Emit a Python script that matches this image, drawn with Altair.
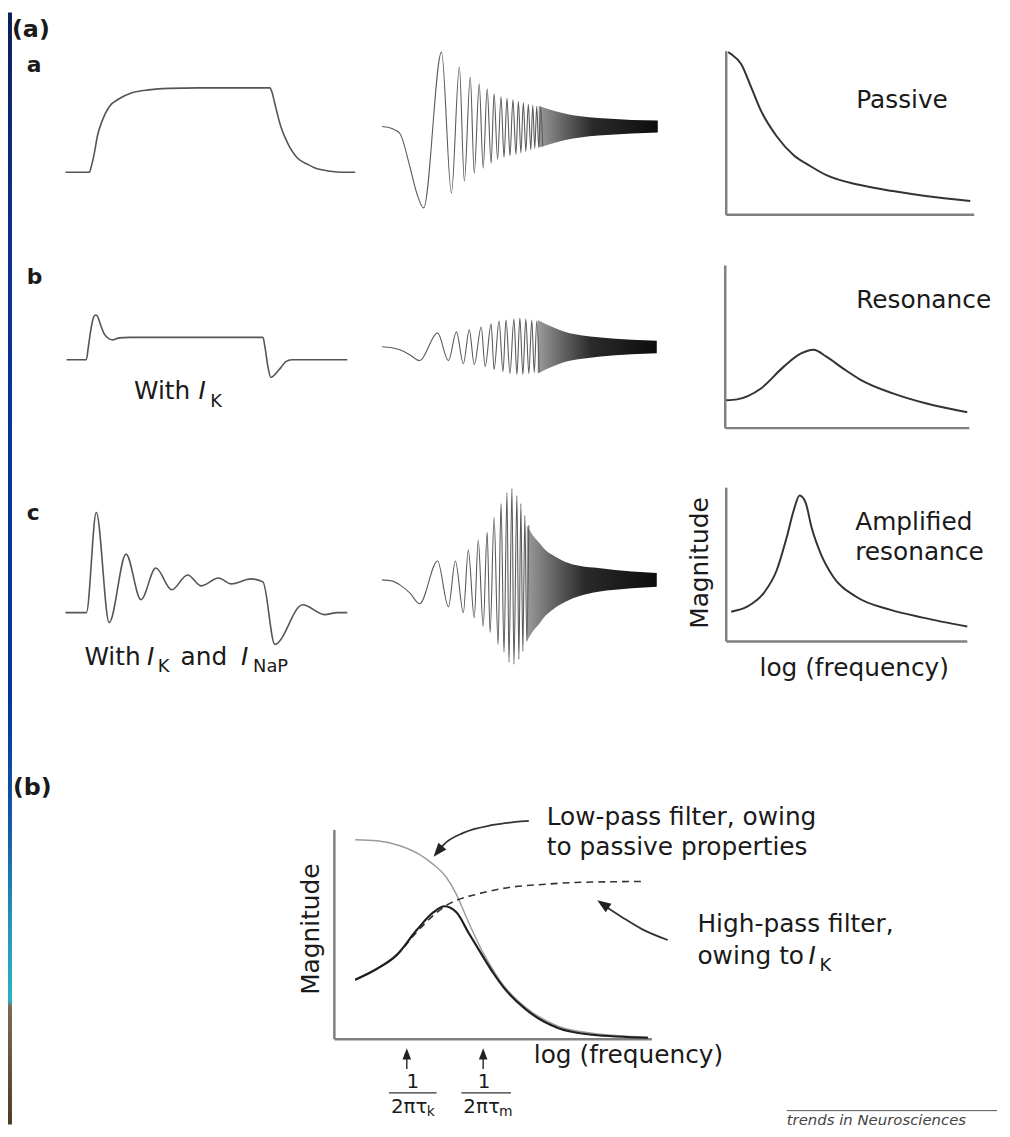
import altair as alt
import pandas as pd

FONT = "DejaVu Sans"
INK = "#1a1a1a"
OFF = 8
W, H = 1002, 1121

# ---------------- data (arbitrary units) ----------------
# step responses: time vs membrane voltage
SA_T = [0, 24, 26, 29, 32, 37, 44, 54, 67, 84, 104, 134, 206, 208, 211, 217, 224, 234, 244, 251, 267, 279, 292]
SA_V = [0, 0, 6, 19, 36, 52, 66, 74, 80, 83, 84.5, 85, 85, 81, 69, 46, 29, 14, 8, 4.5, 1, 0, 0]
SB_T = [1, 21, 23, 26, 28, 30, 32, 35, 39, 44, 48, 54, 64, 199, 201, 204, 207, 211, 217, 222, 228, 284]
SB_V = [0, 0, 13, 33, 42, 45, 44, 36, 26, 21, 20, 22, 22.5, 22.5, 13, -7, -18, -15, -8, -2, 0, 0]
SC_T = [0, 21, 31, 44, 61, 76, 91, 107, 123, 137, 154, 167, 187, 199, 211, 239, 261, 274, 284]
SC_V = [0, 0, 101, -10, 59, 13, 45, 23, 38, 27, 35, 29, 34, 31, -32, 8, -2, 0, 0]

# chirp (ZAP) responses: extrema of the readable part + envelope of the dense part
CA_T = [0, 10, 18, 28, 35, 42, 60, 70, 78, 83, 89, 93, 98, 102, 106, 110, 113, 116.5, 120, 123, 126, 129,
        132, 135, 137.5, 140, 142.5, 145, 147.5, 150, 152, 154, 156, 158, 160, 162]
CA_V = [0, -2, -7, -40, -67, -82, 75, -67, 60, -55, 50, -47, 43, -42, 38, -37, 33, -33, 30, -31, 28.5, -29.5,
        27, -28, 25.5, -26.5, 24, -25, 22.5, -23.5, 21.5, -22, 20.5, -21, 19.5, -20]
CA_BT = [158, 165, 175, 185, 200, 218, 235, 252, 278]
CA_BU = [21, 18.5, 15.5, 13, 10.5, 8.5, 7.5, 6.5, 6]
CA_BL = [-21, -19, -16, -13.5, -11, -9, -8, -7, -6]

CB_T = [0, 10, 18, 28, 38, 56, 67, 75, 82, 88, 93, 100, 104, 110, 113, 118, 122, 125, 129, 133, 136, 139,
        142, 145, 148, 151, 153.5, 156, 158.5]
CB_V = [0, -1, -3, -8, -14, 14, -14, 15, -17, 17, -18, 20, -20, 23, -23, 26, -25, 27, -27, 28, -28, 29,
        -28, 28, -27, 27, -26, 26, -26]
CB_BT = [157, 165, 172, 185, 202, 218, 235, 252, 277]
CB_BU = [27, 23, 20, 15, 11.5, 9.5, 8, 7, 6]
CB_BL = [-27, -23, -20, -15, -12, -10, -8.5, -7.5, -6.5]

CC_T = [0, 10, 18, 28, 38, 56, 67, 74, 82, 87, 93, 97, 102, 106, 109, 113, 117, 120, 123, 126, 128, 131,
        133, 136, 138, 140, 142, 144, 146, 148]
CC_V = [0, -1, -5, -13, -24, 19, -27, 19, -33, 30, -38, 40, -47, 48, -53, 63, -65, 77, -73, 88, -83, 92,
        -85, 85, -80, 77, -72, 65, -62, 55]
CC_BT = [146, 152, 158, 165, 172, 185, 200, 218, 235, 252, 277]
CC_BU = [55, 45, 38, 30, 25, 18, 14, 12, 10, 8.5, 7]
CC_BL = [-62, -52, -45, -36, -30, -22, -16, -12, -10, -8.5, -7]

# impedance magnitude vs log(frequency)
FA_F = [2, 5, 15, 25, 35, 51, 68, 85, 101, 135, 168, 201, 246]
FA_M = [164, 162, 152, 129, 105, 79, 60, 49, 40, 30, 24, 19, 14]
FB_F = [1, 12, 36, 59, 76, 89, 102, 119, 136, 169, 202, 244]
FB_M = [28, 29, 40, 62, 75, 79, 72, 60, 49, 35, 25, 16]
FC_F = [5, 21, 38, 51, 61, 68, 74, 80, 86, 95, 108, 131, 165, 198, 243]
FC_M = [30, 35, 49, 72, 105, 132, 147, 140, 115, 89, 65, 45, 32, 24, 15]

# panel (b): low-pass, resonance and high-pass curves
LP_F = [21, 43, 66, 86, 100, 113, 123, 133, 143, 150, 160, 170, 193, 226, 260, 316]
LP_M = [201, 200, 195, 186, 176, 163, 146, 123, 101, 87, 70, 55, 32, 13, 6, 2]
RS_F = [21, 43, 63, 83, 100, 111, 123, 136, 150, 160, 170, 193, 226, 260, 316]
RS_M = [60, 71, 85, 110, 128, 134, 128, 106, 83, 67, 53, 30, 11, 4.5, 1.5]
HP_F = [21, 43, 63, 83, 100, 113, 123, 143, 176, 210, 243, 310]
HP_M = [60, 71, 85, 108, 125, 135, 140, 146, 153, 156, 158, 159]

# ---------------- layout: panel anchors on the page ----------------
PAN = {
    "SA": (66, 169), "SB": (66, 358), "SC": (66, 613),
    "CA": (385, 123), "CB": (385, 345), "CC": (385, 580),
    "FA": (732, 212), "FB": (731, 427), "FC": (732, 642),
    "PB": (337, 1043),
}


def sx(p):
    x0 = PAN[p][0] - OFF
    return alt.Scale(domain=[0, 100], range=[x0, x0 + 100], nice=False, zero=False)


def sy(p):
    y0 = PAN[p][1] - OFF
    return alt.Scale(domain=[0, 100], range=[y0, y0 - 100], nice=False, zero=False)


def enc(p):
    return dict(x=alt.X("t:Q", scale=sx(p), axis=None),
                y=alt.Y("v:Q", scale=sy(p), axis=None))


def line(p, t, v, color, width, dash=None, interp="monotone"):
    kw = dict(color=color, strokeWidth=width, interpolate=interp)
    if dash:
        kw["strokeDash"] = dash
    return alt.Chart(pd.DataFrame({"t": t, "v": v})).mark_line(**kw).encode(**enc(p))


GRAD = alt.LinearGradient(
    gradient="linear", x1=0, x2=1, y1=0, y2=0,
    stops=[alt.GradientStop(color="#9a9a9a", offset=0),
           alt.GradientStop(color="#666666", offset=0.2),
           alt.GradientStop(color="#2a2a2a", offset=0.45),
           alt.GradientStop(color="#0d0d0d", offset=1)])


def band(p, t, up, lo):
    df = pd.DataFrame({"t": t, "v": up, "l": lo})
    return alt.Chart(df).mark_area(fill=GRAD, interpolate="monotone").encode(
        x=alt.X("t:Q", scale=sx(p), axis=None),
        y=alt.Y("v:Q", scale=sy(p), axis=None),
        y2="l:Q")


def rule(p, t, v, t2, v2, color="#808080", width=2.5):
    df = pd.DataFrame({"t": [t], "v": [v], "t2": [t2], "v2": [v2]})
    return alt.Chart(df).mark_rule(color=color, strokeWidth=width).encode(
        x=alt.X("t:Q", scale=sx(p), axis=None),
        y=alt.Y("v:Q", scale=sy(p), axis=None),
        x2="t2:Q", y2="v2:Q")


def axes(p, xmax, ymax):
    return [rule(p, 0, 0, xmax, 0), rule(p, 0, 0, 0, ymax)]


def label(p, t, v, s, size=25, **kw):
    props = dict(font=FONT, fontSize=size, align="left", baseline="alphabetic", color=INK)
    props.update(kw)
    df = pd.DataFrame({"t": [t], "v": [v], "s": [s]})
    return alt.Chart(df).mark_text(**props).encode(**enc(p), text="s:N")


HEAD = "M0,0L-0.38,1L0.38,1Z"


def head(p, t, v, ang, size=760):
    df = pd.DataFrame({"t": [t], "v": [v]})
    return alt.Chart(df).mark_point(shape=HEAD, filled=True, color="#222", opacity=1,
                                    strokeWidth=0, size=size, angle=ang).encode(**enc(p))


layers = []

# decorative slide border on the left
strip_grad = alt.LinearGradient(
    gradient="linear", x1=0, x2=0, y1=0, y2=1,
    stops=[alt.GradientStop(color="#0c2058", offset=0),
           alt.GradientStop(color="#0a2f90", offset=0.216),
           alt.GradientStop(color="#0033a0", offset=0.617),
           alt.GradientStop(color="#125aa6", offset=0.733),
           alt.GradientStop(color="#2297b8", offset=0.822),
           alt.GradientStop(color="#2cb0c4", offset=0.889),
           alt.GradientStop(color="#7a6a55", offset=0.894),
           alt.GradientStop(color="#4b3b24", offset=1)])
layers.append(alt.Chart(pd.DataFrame({"d": [0]})).mark_rect(fill=strip_grad).encode(
    x=alt.value(0), x2=alt.value(4), y=alt.value(0), y2=alt.value(H)))

# ---- column 1: step responses ----
STEP = dict(color="#555555", width=1.6)
layers += [line("SA", SA_T, SA_V, **STEP), line("SB", SB_T, SB_V, **STEP), line("SC", SC_T, SC_V, **STEP)]
layers += [
    label("SA", -54, 136, "(a)", size=24, fontWeight="bold"),
    label("SA", -39, 101, "a", size=22, fontWeight="bold"),
    label("SB", -39, 76, "b", size=22, fontWeight="bold"),
    label("SC", -39, 93, "c", size=22, fontWeight="bold"),
    label("SB", 69, -40, "With"),
    label("SB", 134, -40, "I", fontStyle="italic"),
    label("SB", 146, -48, "K", size=18),
    label("SC", 19, -53, "With"),
    label("SC", 82, -53, "I", fontStyle="italic"),
    label("SC", 93, -60, "K", size=18),
    label("SC", 116, -53, "and"),
    label("SC", 177, -53, "I", fontStyle="italic"),
    label("SC", 189, -60, "NaP", size=18),
]

# ---- column 2: chirp responses ----
CH = dict(color="#5a5a5a", width=1.1)
layers += [band("CA", CA_BT, CA_BU, CA_BL), line("CA", CA_T, CA_V, **CH)]
layers += [band("CB", CB_BT, CB_BU, CB_BL), line("CB", CB_T, CB_V, **CH)]
layers += [band("CC", CC_BT, CC_BU, CC_BL), line("CC", CC_T, CC_V, **CH)]

# ---- column 3: impedance profiles ----
FR = dict(color="#333333", width=2)
layers += axes("FA", 250, 165) + [line("FA", FA_F, FA_M, **FR), label("FA", 131, 108, "Passive")]
layers += axes("FB", 246, 164) + [line("FB", FB_F, FB_M, **FR), label("FB", 132, 121, "Resonance")]
layers += axes("FC", 243, 155) + [
    line("FC", FC_F, FC_M, **FR),
    label("FC", 130, 112, "Amplified"),
    label("FC", 130, 82, "resonance"),
    label("FC", -18, 79, "Magnitude", angle=270, align="center"),
    label("FC", 129, -35, "log (frequency)", align="center"),
]

# ---- panel (b) ----
layers += axes("PB", 320, 211)
layers += [
    line("PB", LP_F, LP_M, color="#9a9a9a", width=1.4),
    line("PB", HP_F, HP_M, color="#333333", width=1.6, dash=[7, 5]),
    line("PB", RS_F, RS_M, color="#1e1e1e", width=2.2),
    # arrows
    line("PB", [196, 160, 130, 110, 104], [220, 216, 208, 196, 189], color="#333", width=1.8),
    head("PB", 100, 184, 220),
    line("PB", [336, 310, 290, 270], [100, 111, 123, 136], color="#333", width=1.8),
    head("PB", 265, 140, 304),
    rule("PB", 73, -14, 73, -30, color="#333", width=1.5),
    head("PB", 73, -9, 0, size=520),
    rule("PB", 150, -14, 150, -30, color="#333", width=1.5),
    head("PB", 150, -9, 0, size=520),
    # fractions
    label("PB", 79, -49, "1", size=20, align="center"),
    rule("PB", 55, -54, 103, -54, color="#333", width=1.3),
    label("PB", 57, -74, "2πτ", size=20),
    label("PB", 93, -77, "k", size=14),
    label("PB", 151, -49, "1", size=20, align="center"),
    rule("PB", 128, -54, 178, -54, color="#333", width=1.3),
    label("PB", 130, -74, "2πτ", size=20),
    label("PB", 166, -77, "m", size=14),
    # texts
    label("PB", -324, 246, "(b)", size=24, fontWeight="bold"),
    label("PB", -16, 111, "Magnitude", angle=270, align="center"),
    label("PB", 201, -24, "log (frequency)"),
    label("PB", 214, 216, "Low-pass filter, owing"),
    label("PB", 214, 186, "to passive properties"),
    label("PB", 366, 108, "High-pass filter,"),
    label("PB", 366, 76, "owing to"),
    label("PB", 478, 76, "I", fontStyle="italic"),
    label("PB", 489, 69, "K", size=18),
    # footer
    rule("PB", 456, -72, 668, -72, color="#555", width=1),
    label("PB", 456, -86, "trends in Neurosciences", size=15, fontStyle="italic", color="#444"),
]

chart = alt.layer(*layers).resolve_scale(x="independent", y="independent").properties(
    width=W, height=H, autosize=alt.AutoSizeParams(type="none"), padding=0, background="white"
).configure_view(stroke=None)

chart.save("out.html", embed_options={"renderer": "svg", "actions": False})
